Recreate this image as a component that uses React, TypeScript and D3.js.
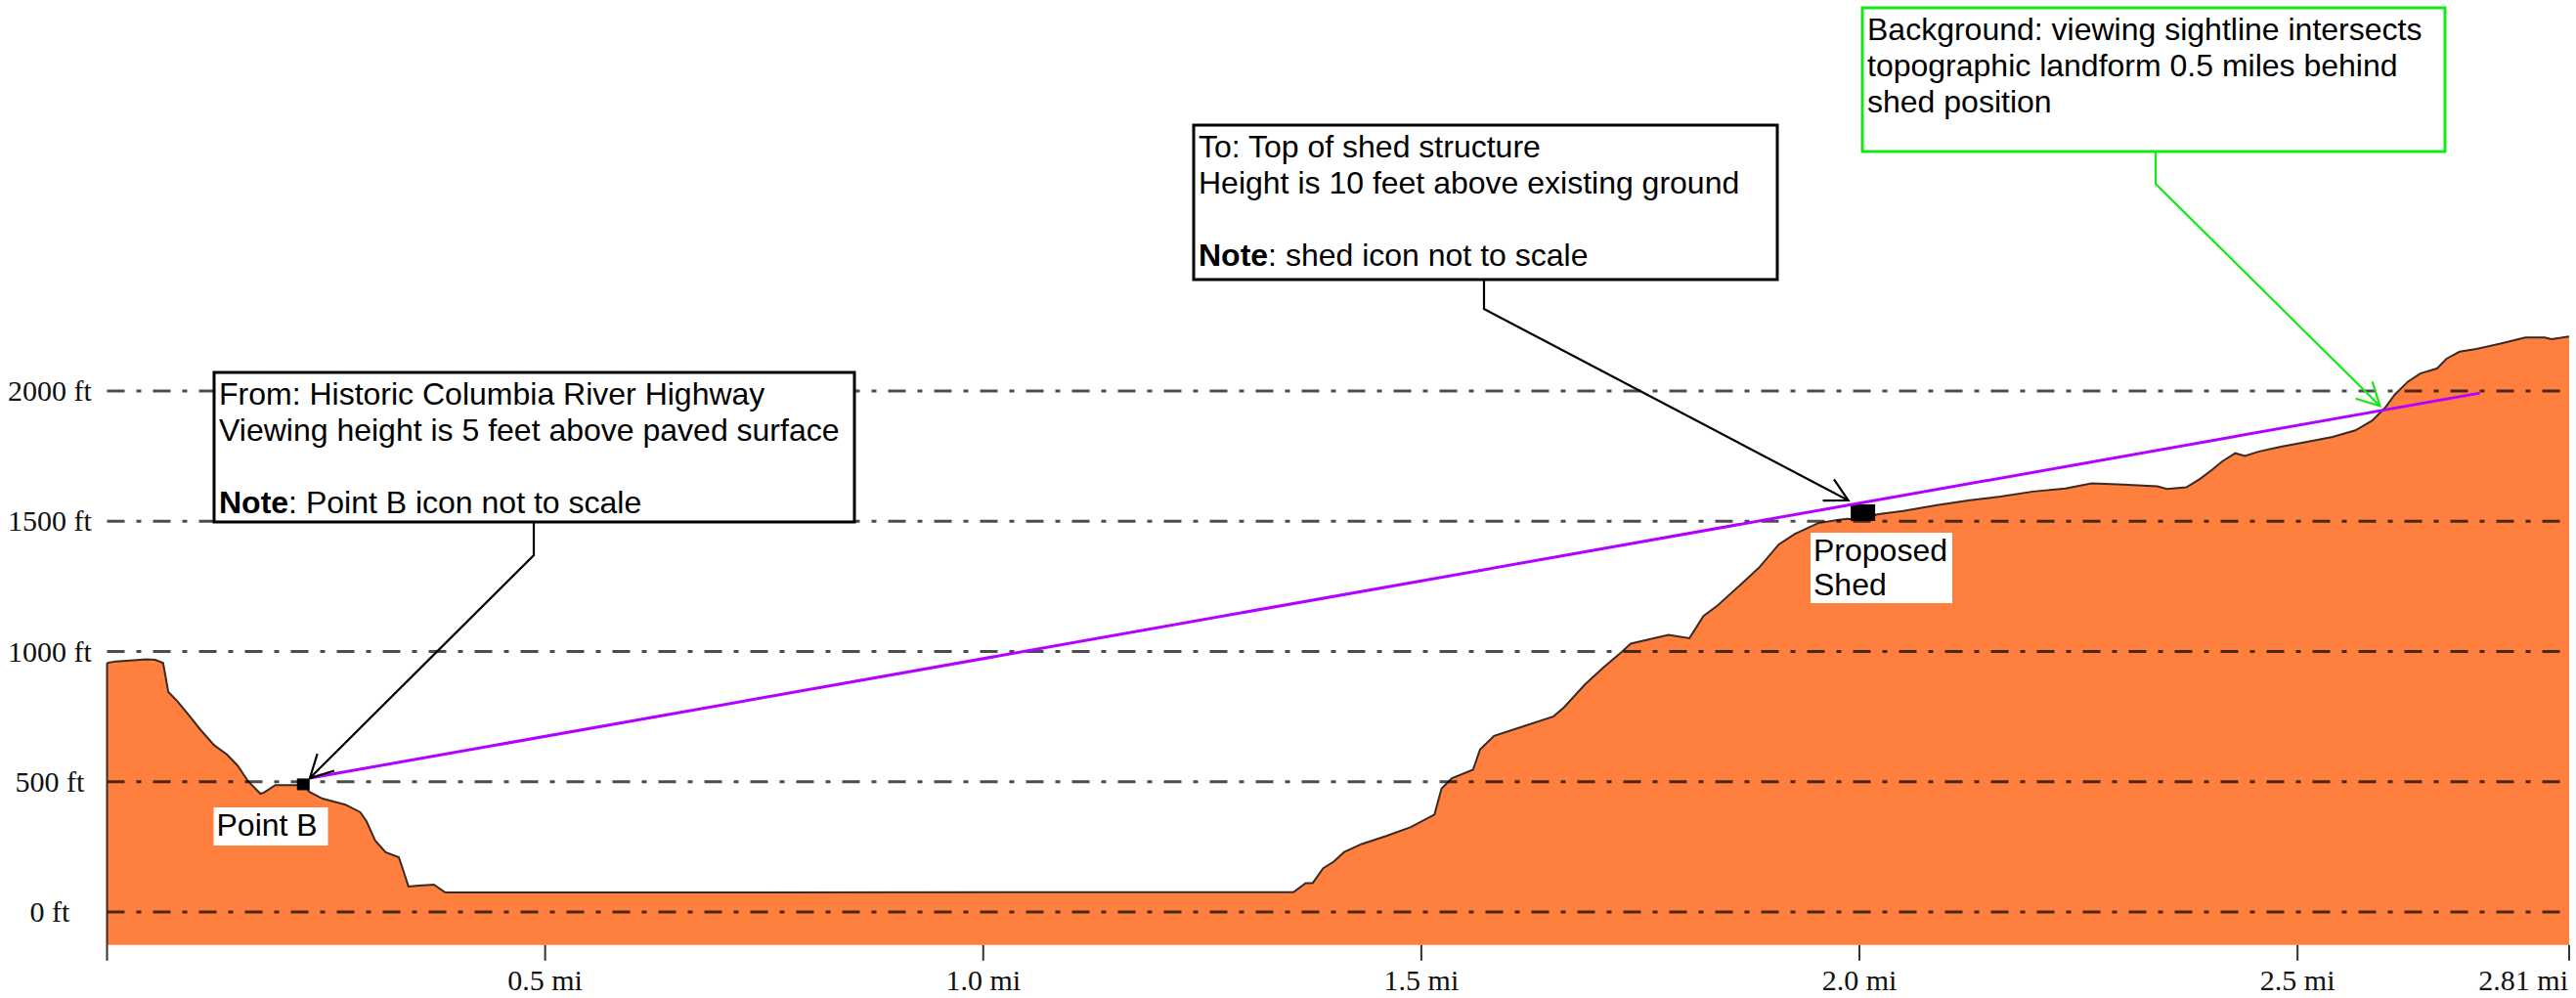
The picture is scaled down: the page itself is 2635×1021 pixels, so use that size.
import { useEffect, useRef } from 'react';
import * as d3 from 'd3';

// Terrain profile (distance in miles, elevation in feet)
const distanceMi = [
  0.0, 0.01, 0.03, 0.045, 0.055, 0.064, 0.07, 0.08, 0.092, 0.107, 0.122, 0.137, 0.149, 0.161,
  0.175, 0.179, 0.192, 0.217, 0.224, 0.231, 0.246, 0.272, 0.289, 0.296, 0.306, 0.318, 0.333,
  0.339, 0.344, 0.356, 0.373, 0.386, 1.354, 1.368, 1.376, 1.388, 1.4, 1.412, 1.432, 1.46, 1.488,
  1.515, 1.523, 1.535, 1.559, 1.567, 1.583, 1.615, 1.651, 1.663, 1.687, 1.707, 1.727, 1.739,
  1.758, 1.782, 1.806, 1.822, 1.838, 1.87, 1.886, 1.908, 1.926, 1.953, 1.975, 1.986, 2.004,
  2.02, 2.05, 2.087, 2.124, 2.161, 2.198, 2.235, 2.265, 2.295, 2.34, 2.351, 2.373, 2.388, 2.403,
  2.414, 2.429, 2.44, 2.455, 2.481, 2.511, 2.54, 2.566, 2.585, 2.6, 2.611, 2.626, 2.64, 2.659,
  2.67, 2.685, 2.704, 2.734, 2.76, 2.782, 2.79, 2.81,
];
const elevationFt = [
  956, 962, 966, 970, 968, 956, 844, 810, 761, 698, 641, 604, 562, 502,
  454, 458, 487, 487, 490, 461, 435, 412, 383, 349, 274, 229, 210,
  150, 98, 101, 105, 75, 76, 111, 111, 168, 193, 230, 261, 292, 326,
  374, 474, 514, 546, 624, 676, 711, 751, 786, 874, 936, 993, 1030,
  1045, 1064, 1051, 1136, 1176, 1274, 1324, 1411, 1451, 1493, 1505, 1509, 1505,
  1526, 1539, 1561, 1580, 1595, 1614, 1626, 1645, 1642, 1634, 1624, 1630, 1661, 1699,
  1730, 1761, 1751, 1767, 1786, 1805, 1824, 1849, 1886, 1936, 1986, 2036, 2067, 2086,
  2124, 2151, 2161, 2184, 2205, 2205, 2199, 2209,
];

const yTicksFt = [0, 500, 1000, 1500, 2000];
const xTicksMi = [0, 0.5, 1.0, 1.5, 2.0, 2.5, 2.81];
const xTickLabels = ['', '0.5 mi', '1.0 mi', '1.5 mi', '2.0 mi', '2.5 mi', '2.81 mi'];

// Sightline from viewer (Point B) to where it meets the landform
const sightlineMi = [0.2315, 2.708];
const sightlineFt = [514, 1992];
const pointB = { mi: 0.224, ft: 490 };
const shed = { mi: 2.004, ft: 1505 };
const intersectMi = 2.594;

const fromLines = ['From: Historic Columbia River Highway', 'Viewing height is 5 feet above paved surface', '', 'Point B icon not to scale'];
const toLines = ['To: Top of shed structure', 'Height is 10 feet above existing ground', '', 'shed icon not to scale'];
const bgLines = ['Background: viewing sightline intersects', 'topographic landform 0.5 miles behind', 'shed position'];

const W = 2635;
const H = 1021;
const SANS = "Arial, 'Liberation Sans', sans-serif";
const SERIF = "'Times New Roman', 'Liberation Serif', serif";
const PURPLE = '#b400ff';
const GREEN = '#12e812';

export default function App() {
  const svgRef = useRef<SVGSVGElement>(null);

  useEffect(() => {
    if (!svgRef.current) return;
    const svg = d3.select(svgRef.current);
    svg.selectAll('*').remove();

    const x = d3.scaleLinear().domain([0, 2.81]).range([109.5, 2628]);
    const y = d3.scaleLinear().domain([0, 2000]).range([933, 400]);
    const floor = y(-127);

    const profile = distanceMi.map((d, i) => [d, elevationFt[i]] as [number, number]);

    svg.append('rect').attr('width', W).attr('height', H).attr('fill', '#fff');

    // Terrain
    svg.append('path')
      .datum(profile)
      .attr('fill', '#ff7f3f')
      .attr('d', d3.area<[number, number]>().x(d => x(d[0])).y0(floor).y1(d => y(d[1])));

    svg.append('path')
      .datum(profile)
      .attr('fill', 'none')
      .attr('stroke', '#3a2a22')
      .attr('stroke-width', 2)
      .attr('d', d3.line<[number, number]>().x(d => x(d[0])).y(d => y(d[1])));

    // Grid lines (dash-dot), on top of the fill
    svg.append('g')
      .selectAll('line')
      .data(yTicksFt)
      .join('line')
      .attr('x1', x(0))
      .attr('x2', x(2.81))
      .attr('y1', d => y(d))
      .attr('y2', d => y(d))
      .attr('stroke', '#000')
      .attr('stroke-opacity', 0.7)
      .attr('stroke-width', 3)
      .attr('stroke-dasharray', '18,12,5,12');

    // Y labels
    svg.append('g')
      .selectAll('text')
      .data(yTicksFt)
      .join('text')
      .attr('x', 51)
      .attr('y', d => y(d) + 10)
      .attr('text-anchor', 'middle')
      .attr('font-family', SERIF)
      .attr('font-size', 30)
      .attr('fill', '#111')
      .text(d => `${d} ft`);

    // X ticks + labels
    svg.append('line')
      .attr('x1', x(0)).attr('x2', x(0))
      .attr('y1', y(elevationFt[0])).attr('y2', floor)
      .attr('stroke', '#3a2a22').attr('stroke-width', 2);

    svg.append('g')
      .selectAll('line')
      .data(xTicksMi)
      .join('line')
      .attr('x1', d => x(d))
      .attr('x2', d => x(d))
      .attr('y1', floor)
      .attr('y2', floor + 16)
      .attr('stroke', '#333')
      .attr('stroke-width', 2);

    svg.append('g')
      .selectAll('text')
      .data(xTicksMi)
      .join('text')
      .attr('x', (d, i) => (i === xTicksMi.length - 1 ? x(d) - 1 : x(d)))
      .attr('y', 1013)
      .attr('text-anchor', (d, i) => (i === xTicksMi.length - 1 ? 'end' : 'middle'))
      .attr('font-family', SERIF)
      .attr('font-size', 30)
      .attr('fill', '#111')
      .text((d, i) => xTickLabels[i]);

    // Markers
    svg.append('rect')
      .attr('x', x(pointB.mi) - 6.5)
      .attr('y', y(pointB.ft) - 6)
      .attr('width', 13)
      .attr('height', 12)
      .attr('fill', '#000');

    svg.append('rect')
      .attr('x', x(shed.mi) - 12.5)
      .attr('y', y(shed.ft) - 16)
      .attr('width', 25)
      .attr('height', 17)
      .attr('fill', '#000');

    // Sightline
    svg.append('line')
      .attr('x1', x(sightlineMi[0])).attr('y1', y(sightlineFt[0]))
      .attr('x2', x(sightlineMi[1])).attr('y2', y(sightlineFt[1]))
      .attr('stroke', PURPLE)
      .attr('stroke-width', 3);

    // Point labels with white backing
    const label = (bx: number, by: number, bw: number, bh: number, lines: string[]) => {
      svg.append('rect').attr('x', bx).attr('y', by).attr('width', bw).attr('height', bh).attr('fill', '#fff');
      lines.forEach((t, i) => {
        svg.append('text')
          .attr('x', bx + 3)
          .attr('y', by + 29 + i * 35)
          .attr('font-family', SANS)
          .attr('font-size', 32)
          .attr('fill', '#000')
          .text(t);
      });
    };
    label(218.5, 826, 117, 39, ['Point B']);
    label(1852, 545, 145, 72, ['Proposed', 'Shed']);

    // Callout boxes with leaders
    const callout = (
      bx: number, by: number, bw: number, bh: number,
      lines: string[], boldNote: boolean, color: string,
      leadX: number, elbowY: number, tip: [number, number]
    ) => {
      svg.append('rect')
        .attr('x', bx).attr('y', by).attr('width', bw).attr('height', bh)
        .attr('fill', '#fff').attr('stroke', color).attr('stroke-width', 3);

      lines.forEach((t, i) => {
        const txt = svg.append('text')
          .attr('x', bx + 5)
          .attr('y', by + 32.5 + i * 37)
          .attr('font-family', SANS)
          .attr('font-size', 32)
          .attr('fill', '#000');
        if (boldNote && i === lines.length - 1) {
          txt.append('tspan').attr('font-weight', 'bold').text('Note');
          txt.append('tspan').text(': ' + t);
        } else {
          txt.text(t);
        }
      });

      svg.append('path')
        .attr('d', d3.line()([[leadX, by + bh], [leadX, elbowY], tip]))
        .attr('fill', 'none')
        .attr('stroke', color)
        .attr('stroke-width', 2.2);

      // open arrow head
      const ang = Math.atan2(elbowY - tip[1], leadX - tip[0]);
      const spread = (28 * Math.PI) / 180;
      const len = 26;
      const arms: [number, number][] = [
        [tip[0] + len * Math.cos(ang - spread), tip[1] + len * Math.sin(ang - spread)],
        tip,
        [tip[0] + len * Math.cos(ang + spread), tip[1] + len * Math.sin(ang + spread)],
      ];
      svg.append('path')
        .attr('d', d3.line()(arms))
        .attr('fill', 'none')
        .attr('stroke', color)
        .attr('stroke-width', 2.2);
    };

    const slope = (sightlineFt[1] - sightlineFt[0]) / (sightlineMi[1] - sightlineMi[0]);
    const intersectFt = sightlineFt[0] + slope * (intersectMi - sightlineMi[0]);

    callout(219, 381, 655, 153, fromLines, true, '#000', 546, 568,
      [x(sightlineMi[0]), y(sightlineFt[0])]);
    callout(1221, 128, 597, 158, toLines, true, '#000', 1518, 316,
      [x(shed.mi) - 15, y(shed.ft) - 20]);
    callout(1905, 8, 596, 147, bgLines, false, GREEN, 2205, 188,
      [x(intersectMi), y(intersectFt) - 5]);
  }, []);

  return (
    <div style={{ position: 'absolute', left: 0, top: 0 }}>
      <svg ref={svgRef} width={W} height={H} style={{ display: 'block' }}></svg>
    </div>
  );
}
